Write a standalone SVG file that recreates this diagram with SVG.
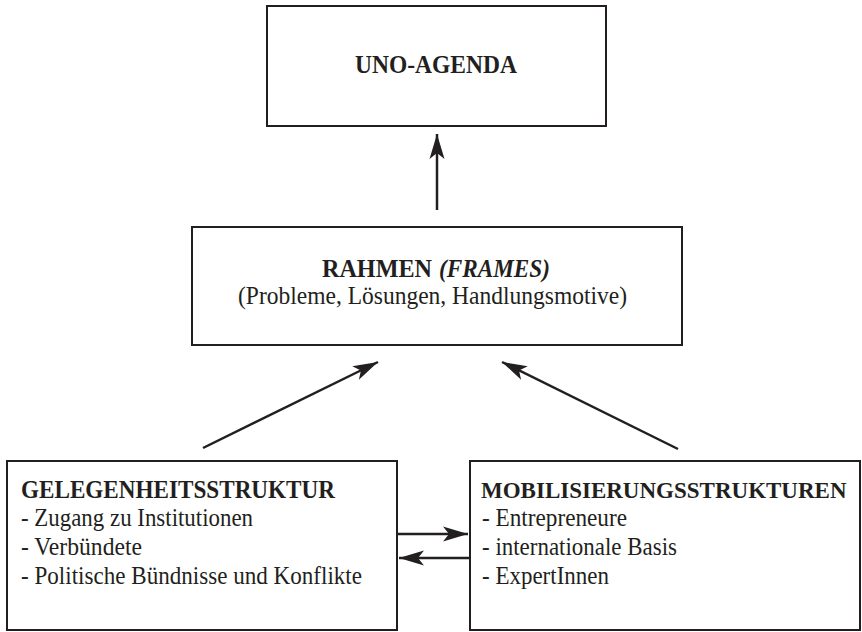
<svg xmlns="http://www.w3.org/2000/svg" width="862" height="632" viewBox="0 0 862 632">
<style>
.box{fill:#fff;stroke:#231f20;stroke-width:2}
.t{font-family:"Liberation Serif","Times New Roman",serif;font-size:25px;fill:#231f20}
.b{font-weight:bold}
.bi{font-weight:bold;font-style:italic}
.c{text-anchor:middle}
.con{stroke:#231f20;stroke-width:2.5;fill:none}
</style>
<defs>
<marker id="ah" markerUnits="userSpaceOnUse" markerWidth="30" markerHeight="20" viewBox="-26 -10 30 20" refX="0" refY="0" orient="auto">
<path d="M0,0 L-25,-7.5 L-19,0 L-25,7.5 Z" fill="#231f20"/>
</marker>
</defs>
<rect width="862" height="632" fill="#fff"/>
<g id="uno-agenda">
<rect class="box" x="267" y="6" width="339" height="120"/>
<text class="t b" x="355" y="73" textLength="162" lengthAdjust="spacingAndGlyphs">UNO-AGENDA</text>
</g>
<g id="rahmen">
<rect class="box" x="192" y="227" width="490" height="118"/>
<text class="t b" x="322" y="277" textLength="110" lengthAdjust="spacingAndGlyphs">RAHMEN</text>
<text class="t bi" x="439" y="277" textLength="111" lengthAdjust="spacingAndGlyphs">(FRAMES)</text>
<text class="t" x="238" y="304" textLength="389" lengthAdjust="spacingAndGlyphs">(Probleme, Lösungen, Handlungsmotive)</text>
</g>
<g id="gelegenheitsstruktur">
<rect class="box" x="7" y="461" width="390" height="169"/>
<text class="t b" x="21" y="498" textLength="314" lengthAdjust="spacingAndGlyphs">GELEGENHEITSSTRUKTUR</text>
<text class="t" x="21" y="526" textLength="232" lengthAdjust="spacingAndGlyphs">- Zugang zu Institutionen</text>
<text class="t" x="21" y="555" textLength="121" lengthAdjust="spacingAndGlyphs">- Verbündete</text>
<text class="t" x="21" y="584" textLength="341" lengthAdjust="spacingAndGlyphs">- Politische Bündnisse und Konflikte</text>
</g>
<g id="mobilisierungsstrukturen">
<rect class="box" x="470" y="461" width="390" height="169"/>
<text class="t b" x="481" y="498" font-size="23" style="font-size:23px">MOBILISIERUNGSSTRUKTUREN</text>
<text class="t" x="482" y="526" textLength="145" lengthAdjust="spacingAndGlyphs">- Entrepreneure</text>
<text class="t" x="482" y="555" textLength="195" lengthAdjust="spacingAndGlyphs">- internationale Basis</text>
<text class="t" x="482" y="584" textLength="127" lengthAdjust="spacingAndGlyphs">- ExpertInnen</text>
</g>
<g id="connectors">
<line class="con" x1="437" y1="210" x2="437" y2="134" marker-end="url(#ah)"/>
<line class="con" x1="203" y1="448" x2="378" y2="362" marker-end="url(#ah)"/>
<line class="con" x1="678" y1="449" x2="502" y2="362" marker-end="url(#ah)"/>
<line class="con" x1="397" y1="534" x2="468" y2="534" marker-end="url(#ah)"/>
<line class="con" x1="470" y1="558" x2="399" y2="558" marker-end="url(#ah)"/>
</g>
</svg>
